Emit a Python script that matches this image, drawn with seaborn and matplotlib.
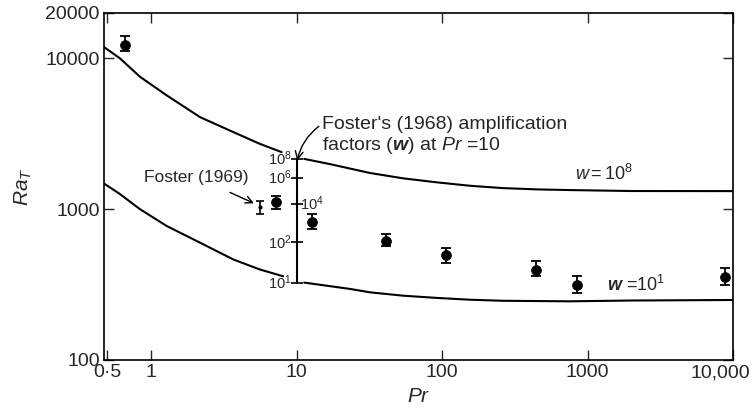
import matplotlib
matplotlib.use("Agg")
import matplotlib.pyplot as plt
import matplotlib.transforms as mtransforms
import seaborn as sns
import pandas as pd

# --- data ---
# w = 10^8 curve (two branches, split at the Pr = 10 scale bar)
upper_left_pr = [0.47, 0.612, 0.84, 1.28, 2.17, 3.68, 5.61, 7.9]
upper_left_ra = [11970, 10000, 7550, 5690, 4080, 3245, 2710, 2390]
upper_right_pr = [11.3, 17, 32, 54, 92.5, 156, 262, 450, 759, 2000, 10000]
upper_right_ra = [2155, 1990, 1738, 1602, 1506, 1430, 1380, 1353, 1339, 1320, 1318]

# w = 10^1 curve
lower_left_pr = [0.47, 0.612, 0.84, 1.28, 2.17, 3.68, 5.61, 8.1]
lower_left_ra = [1490, 1259, 1000, 774, 600, 464, 398, 359]
lower_right_pr = [11.3, 23.3, 32, 54, 92.5, 156, 262, 759, 2000, 10000]
lower_right_ra = [326, 296, 281, 267, 258, 251, 247, 245, 248, 250]

# experimental points with error bars
exp_pr = [0.66, 7.18, 12.7, 41.3, 106, 440, 841, 8800]
exp_ra = [12200, 1113, 819, 612, 494, 398, 316, 357]
exp_lo = [11130, 1000, 736, 567, 437, 358, 280, 316]
exp_hi = [14000, 1220, 926, 681, 549, 450, 358, 410]

# Foster (1969)
foster_pr = [5.58]
foster_ra = [1030]
foster_lo = [926]
foster_hi = [1130]

# amplification factor scale at Pr = 10
amp_pr = 10
amp_labels = ["$10^8$", "$10^6$", "$10^4$", "$10^2$", "$10^1$"]
amp_ra = [2155, 1610, 1080, 603, 326]
amp_side = ["left", "left", "right", "left", "left"]

xtick_vals = [0.5, 1, 10, 100, 1000, 10000]
xtick_labels = ["0·5", "1", "10", "100", "1000", "10,000"]
ytick_vals = [100, 1000, 10000, 20000]
ytick_labels = ["100", "1000", "10000", "20000"]

sns.set_style("ticks")
plt.rcParams['font.family'] = ['Liberation Sans', 'DejaVu Sans']
plt.rcParams['mathtext.fontset'] = 'custom'
plt.rcParams['mathtext.rm'] = 'Liberation Sans'
plt.rcParams['mathtext.it'] = 'Liberation Sans:italic'
plt.rcParams['mathtext.bf'] = 'Liberation Sans:bold:italic'

fig = plt.figure(figsize=(7.55, 4.17), dpi=100)
ax = fig.add_axes([104 / 755, 1 - 360 / 417, 629 / 755, 347 / 417])

for px, ry in [(upper_left_pr, upper_left_ra), (upper_right_pr, upper_right_ra),
               (lower_left_pr, lower_left_ra), (lower_right_pr, lower_right_ra)]:
    d = pd.DataFrame({"Pr": px, "Ra": ry})
    sns.lineplot(data=d, x="Pr", y="Ra", sort=False, estimator=None,
                 color="black", linewidth=1.5, ax=ax)

# experimental data
d_exp = pd.DataFrame({"Pr": exp_pr, "Ra": exp_ra})
yerr = [[r - l for r, l in zip(exp_ra, exp_lo)], [h - r for r, h in zip(exp_ra, exp_hi)]]
ax.errorbar(exp_pr, exp_ra, yerr=yerr, fmt="none", ecolor="black",
            elinewidth=1.3, capsize=3.5, capthick=1.3)
sns.scatterplot(data=d_exp, x="Pr", y="Ra", color="black", s=50,
                edgecolor="black", zorder=5, ax=ax)

ferr = [[r - l for r, l in zip(foster_ra, foster_lo)], [h - r for r, h in zip(foster_ra, foster_hi)]]
ax.errorbar(foster_pr, foster_ra, yerr=ferr, fmt="o", ms=2, color="black",
            elinewidth=1.2, capsize=3, capthick=1.2)

# amplification scale bar
ax.plot([amp_pr, amp_pr], [amp_ra[0], amp_ra[-1]], color="black", lw=1.5)
ax.plot([amp_pr] * len(amp_ra), amp_ra, linestyle="none", marker="_",
        ms=9, mew=1.2, color="black")
for lab, r, side in zip(amp_labels, amp_ra, amp_side):
    off = 0.93 if side == "left" else 1.06
    ax.text(amp_pr * off, r, lab, ha="right" if side == "left" else "left",
            va="center", fontsize=10.5)

# annotations
ax.annotate("Foster's (1968) amplification\nfactors ($\\mathbf{w}$) at $Pr$ =10",
            xy=(10.1, 2100), xytext=(15, 3067), ha="left", va="center",
            fontsize=14, linespacing=1.1,
            arrowprops=dict(arrowstyle="->", color="black", lw=1.0,
                            shrinkA=0, shrinkB=0,
                            connectionstyle="arc3,rad=0.2",
                            relpos=(0, 0.8)))
ax.annotate("Foster (1969)", xy=(5.2, 1085), xytext=(2.04, 1634),
            ha="center", va="center", fontsize=12.5,
            arrowprops=dict(arrowstyle="->", color="black", lw=1.0,
                            shrinkA=8, shrinkB=1))
ax.text(1298, 1710, "$w = 10^8$", ha="center", va="center", fontsize=13)
ax.text(2153, 316, "$\\mathbf{w}$ =$10^1$", ha="center", va="center", fontsize=13)

ax.set_xscale("log")
ax.set_yscale("log")
ax.set_xlim(0.475, 10000)
ax.set_ylim(100, 20000)
ax.set_xticks(xtick_vals)
ax.set_xticklabels(xtick_labels, fontsize=14)
ax.set_yticks(ytick_vals)
ax.set_yticklabels(ytick_labels, fontsize=14)
ax.minorticks_off()
ax.tick_params(direction="in", length=7, width=1, top=True, right=True, pad=3)
for s in ax.spines.values():
    s.set_linewidth(1.2)
    s.set_color("black")

# keep "10,000" inside the figure
last = ax.get_xticklabels()[-1]
last.set_transform(last.get_transform() +
                   mtransforms.ScaledTranslation(-9 / 72, 0, fig.dpi_scale_trans))

ax.set_xlabel("$Pr$", fontsize=15, labelpad=4)
ax.set_ylabel("$Ra_T$", fontsize=15, labelpad=8)

plt.savefig("out.png", dpi=100)
plt.close()
